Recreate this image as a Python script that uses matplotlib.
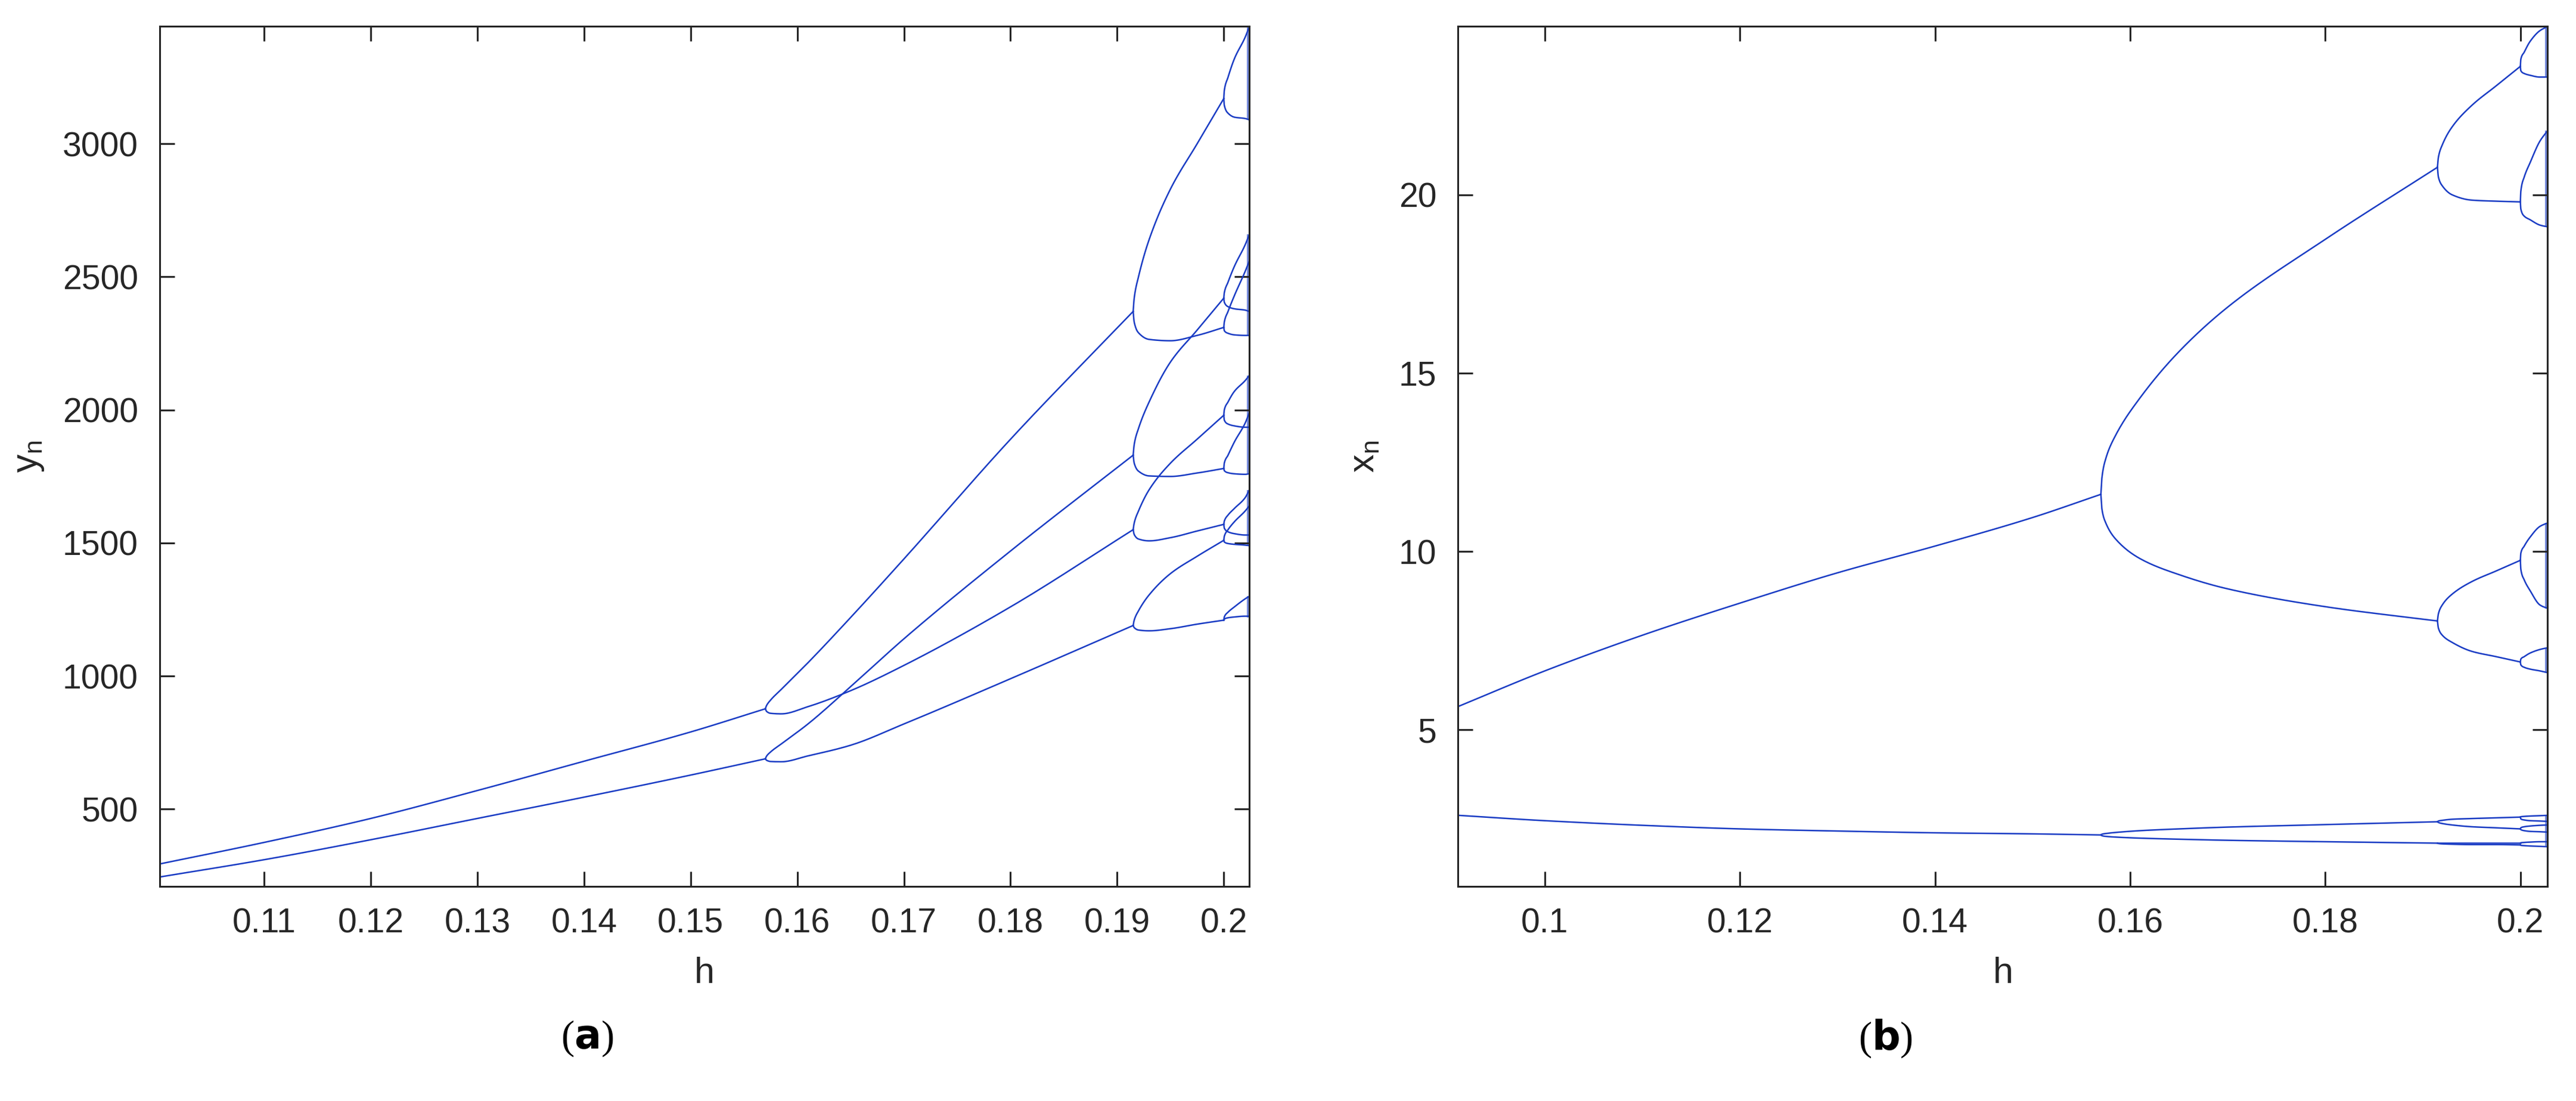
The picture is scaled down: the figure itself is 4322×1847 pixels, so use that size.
import matplotlib
matplotlib.use("Agg")
import matplotlib.pyplot as plt
import numpy as np

plt.rcParams['font.family'] = ['Liberation Sans', 'DejaVu Sans']

BLUE = '#1a3cc4'
TXT = '#262626'

# ---------------- panel (a): y_n vs h ----------------
a_p2_h = [0.1002, 0.11, 0.12, 0.13, 0.14, 0.15, 0.157]
a_p2_up = [294, 375, 465, 570, 680, 790, 877]
a_p2_lo = [245, 310, 385, 465, 545, 628, 689]

a_p4_h = [0.157, 0.1571, 0.1575, 0.1585, 0.161, 0.165, 0.17, 0.18, 0.1915]
a_p4_b1 = [877, 888, 910, 950, 1050, 1220, 1440, 1890, 2370]
a_p4_b2 = [877, 868, 860, 858, 885, 945, 1040, 1260, 1550]
a_p4_b3 = [689, 698, 715, 745, 820, 960, 1140, 1470, 1830]
a_p4_b4 = [689, 684, 679, 678, 700, 740, 820, 990, 1190]

a_p8_h = [0.1915, 0.1916, 0.192, 0.193, 0.195, 0.1975, 0.2]
a_p8_up = [[2370, 2420, 2500, 2640, 2830, 3000, 3170],
           [1830, 1870, 1930, 2030, 2180, 2300, 2420],
           [1550, 1575, 1620, 1700, 1800, 1890, 1980],
           [1190, 1210, 1245, 1305, 1385, 1450, 1510]]
a_p8_lo = [[2370, 2330, 2290, 2265, 2260, 2280, 2310],
           [1830, 1800, 1770, 1752, 1750, 1763, 1780],
           [1550, 1532, 1515, 1508, 1520, 1545, 1570],
           [1190, 1182, 1173, 1170, 1178, 1195, 1210]]

a_p16_h = [0.2, 0.20005, 0.2004, 0.201, 0.202, 0.2024]
a_p16_up = [[3170, 3200, 3250, 3320, 3400, 3441], [2310, 2330, 2370, 2430, 2520, 2560],
            [2420, 2440, 2480, 2540, 2620, 2660], [1780, 1800, 1830, 1880, 1950, 1990],
            [1980, 2000, 2030, 2070, 2110, 2130], [1570, 1582, 1605, 1630, 1670, 1700],
            [1510, 1525, 1550, 1580, 1620, 1640], [1210, 1222, 1240, 1260, 1290, 1300]]
a_p16_lo = [[3170, 3145, 3115, 3100, 3095, 3090], [2310, 2298, 2288, 2282, 2280, 2280],
            [2420, 2405, 2388, 2380, 2375, 2370], [1780, 1772, 1764, 1760, 1758, 1760],
            [1980, 1962, 1947, 1940, 1935, 1935], [1570, 1556, 1542, 1535, 1530, 1530],
            [1510, 1504, 1498, 1495, 1492, 1490], [1210, 1214, 1219, 1222, 1225, 1225]]
a_band_lo = [3090, 2280, 1760, 1490, 1220]
a_band_hi = [3441, 2660, 2130, 1700, 1300]

# ---------------- panel (b): x_n vs h ----------------
b_p2_h = [0.0911, 0.10, 0.11, 0.12, 0.13, 0.14, 0.15, 0.157]
b_p2_up = [5.65, 6.65, 7.65, 8.55, 9.40, 10.15, 10.95, 11.6]
b_p2_lo = [2.60, 2.45, 2.32, 2.22, 2.16, 2.11, 2.08, 2.05]

b_p4_h = [0.157, 0.1571, 0.1575, 0.1585, 0.161, 0.165, 0.17, 0.18, 0.1915]
b_p4_b1 = [11.6, 12.05, 12.6, 13.25, 14.3, 15.6, 16.85, 18.75, 20.77]
b_p4_b2 = [11.6, 11.2, 10.8, 10.35, 9.8, 9.35, 8.95, 8.45, 8.05]
b_p4_b3 = [2.05, 2.07, 2.09, 2.12, 2.17, 2.22, 2.27, 2.34, 2.42]
b_p4_b4 = [2.05, 2.03, 2.01, 1.99, 1.96, 1.93, 1.90, 1.86, 1.82]

b_p8_h = [0.1915, 0.1916, 0.192, 0.193, 0.195, 0.1975, 0.2]
b_p8_up = [[20.77, 21.05, 21.4, 21.9, 22.5, 23.05, 23.6],
           [8.05, 8.25, 8.5, 8.8, 9.15, 9.45, 9.75],
           [2.42, 2.44, 2.46, 2.49, 2.51, 2.53, 2.55],
           [1.82, 1.82, 1.82, 1.82, 1.82, 1.82, 1.82]]
b_p8_lo = [[20.77, 20.5, 20.25, 20.0, 19.85, 19.82, 19.8],
           [8.05, 7.85, 7.65, 7.45, 7.2, 7.05, 6.9],
           [2.42, 2.40, 2.37, 2.33, 2.28, 2.25, 2.22],
           [1.82, 1.81, 1.80, 1.79, 1.78, 1.78, 1.77]]

b_p16_h = [0.2, 0.20005, 0.2004, 0.201, 0.202, 0.2028]
b_p16_up = [[23.6, 23.8, 24.0, 24.3, 24.6, 24.72], [19.8, 20.1, 20.5, 20.9, 21.5, 21.8],
            [9.75, 9.95, 10.15, 10.4, 10.7, 10.8], [6.9, 6.98, 7.05, 7.15, 7.25, 7.3],
            [2.55, 2.56, 2.57, 2.58, 2.59, 2.6], [2.22, 2.25, 2.28, 2.3, 2.32, 2.33],
            [1.82, 1.83, 1.84, 1.85, 1.86, 1.86]]
b_p16_lo = [[23.6, 23.48, 23.4, 23.35, 23.3, 23.3], [19.8, 19.6, 19.4, 19.3, 19.15, 19.1],
            [9.75, 9.5, 9.2, 8.9, 8.5, 8.4], [6.9, 6.82, 6.75, 6.7, 6.65, 6.6],
            [2.55, 2.5, 2.47, 2.45, 2.44, 2.43], [2.22, 2.2, 2.17, 2.15, 2.14, 2.13],
            [1.77, 1.76, 1.75, 1.74, 1.73, 1.72]]
b_band_lo = [23.3, 19.1, 8.4, 6.6, 1.72]
b_band_hi = [24.72, 21.8, 10.8, 7.3, 2.6]


def pchip(h, v, n=16):
    """Monotone cubic (PCHIP) rendering through the read points."""
    x = np.asarray(h, float)
    y = np.asarray(v, float)
    dx = np.diff(x)
    dl = np.diff(y) / dx
    m = np.zeros_like(y)
    for k in range(1, len(x) - 1):
        if dl[k - 1] * dl[k] > 0:
            w1 = 2 * dx[k] + dx[k - 1]
            w2 = dx[k] + 2 * dx[k - 1]
            m[k] = (w1 + w2) / (w1 / dl[k - 1] + w2 / dl[k])
    m[0] = dl[0]
    m[-1] = dl[-1]
    xs, ys = [], []
    for k in range(len(x) - 1):
        t = np.linspace(0, 1, n, endpoint=False)
        hk = dx[k]
        h00 = 2 * t**3 - 3 * t**2 + 1
        h10 = t**3 - 2 * t**2 + t
        h01 = -2 * t**3 + 3 * t**2
        h11 = t**3 - t**2
        xs.append(x[k] + t * hk)
        ys.append(h00 * y[k] + h10 * hk * m[k] + h01 * y[k + 1] + h11 * hk * m[k + 1])
    xs.append([x[-1]])
    ys.append([y[-1]])
    return np.concatenate(xs), np.concatenate(ys)


fig = plt.figure(figsize=(43.22, 18.47), dpi=100)
axA = fig.add_axes([0.062, 0.195, 0.423, 0.781])
axB = fig.add_axes([0.566, 0.195, 0.423, 0.781])
LW = 1.8


def draw(ax, segs, bands_lo, bands_hi, xr):
    for h, v in segs:
        xs, ys = pchip(h, v)
        ax.plot(xs, ys, color=BLUE, lw=LW)
    for lo, hi in zip(bands_lo, bands_hi):
        ax.fill_betweenx([lo, hi], xr - 0.00025, xr, color=BLUE, alpha=0.6, lw=0)


segsA = [(a_p2_h, a_p2_up), (a_p2_h, a_p2_lo),
         (a_p4_h, a_p4_b1), (a_p4_h, a_p4_b2), (a_p4_h, a_p4_b3), (a_p4_h, a_p4_b4)]
segsA += [(a_p8_h, v) for v in a_p8_up + a_p8_lo]
segsA += [(a_p16_h, v) for v in a_p16_up + a_p16_lo]
draw(axA, segsA, a_band_lo, a_band_hi, 0.2024)

segsB = [(b_p2_h, b_p2_up), (b_p2_h, b_p2_lo),
         (b_p4_h, b_p4_b1), (b_p4_h, b_p4_b2), (b_p4_h, b_p4_b3), (b_p4_h, b_p4_b4)]
segsB += [(b_p8_h, v) for v in b_p8_up + b_p8_lo]
segsB += [(b_p16_h, v) for v in b_p16_up + b_p16_lo]
draw(axB, segsB, b_band_lo, b_band_hi, 0.2028)

axA.set_xlim(0.1002, 0.2024)
axA.set_ylim(210, 3441)
axA.set_xticks([0.11, 0.12, 0.13, 0.14, 0.15, 0.16, 0.17, 0.18, 0.19, 0.2])
axA.set_xticklabels(['0.11', '0.12', '0.13', '0.14', '0.15', '0.16', '0.17', '0.18', '0.19', '0.2'])
axA.set_yticks([500, 1000, 1500, 2000, 2500, 3000])
axA.set_ylabel('$\\mathregular{y_n}$', fontsize=44, color=TXT, labelpad=20)

axB.set_xlim(0.0911, 0.2028)
axB.set_ylim(0.61, 24.72)
axB.set_xticks([0.1, 0.12, 0.14, 0.16, 0.18, 0.2])
axB.set_xticklabels(['0.1', '0.12', '0.14', '0.16', '0.18', '0.2'])
axB.set_yticks([5, 10, 15, 20])
axB.set_ylabel('$\\mathregular{x_n}$', fontsize=44, color=TXT, labelpad=20)

for ax in (axA, axB):
    ax.set_xlabel('h', fontsize=44, color=TXT, labelpad=20)
    ax.tick_params(direction='in', length=18, width=2.2, labelsize=41,
                   colors=TXT, top=True, right=True, pad=26)
    for s in ax.spines.values():
        s.set_linewidth(2.2)
        s.set_color(TXT)

fig.text(0.228, 0.057, '($\\mathbf{a}$)', fontsize=48, ha='center', va='center',
         family=['Liberation Serif'])
fig.text(0.732, 0.057, '($\\mathbf{b}$)', fontsize=48, ha='center', va='center',
         family=['Liberation Serif'])

fig.savefig('out.png', dpi=100)
